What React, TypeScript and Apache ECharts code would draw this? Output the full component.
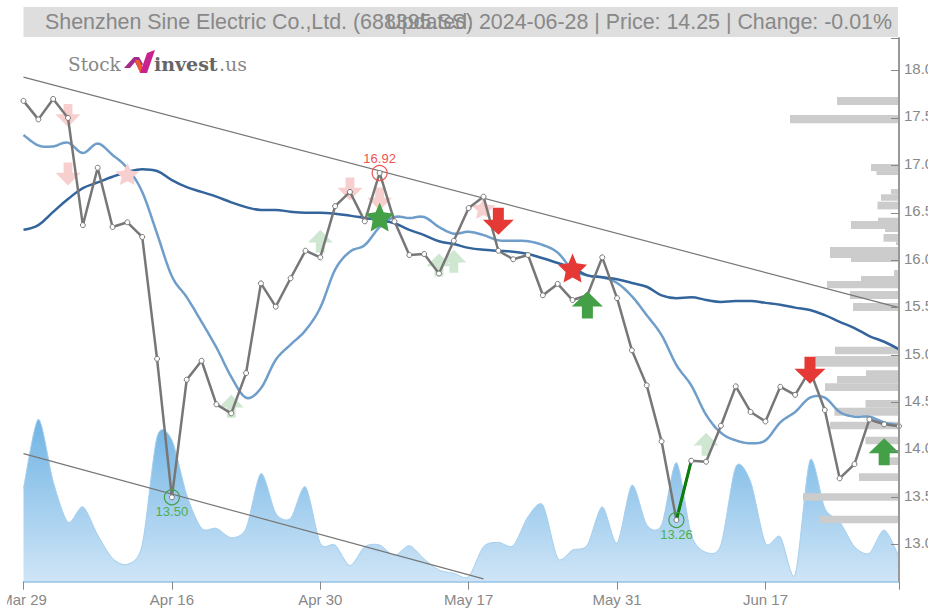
import React, { useEffect, useRef } from "react";
import * as echarts from "echarts";

const dates = ["Mar 29","Apr 1","Apr 2","Apr 3","Apr 8","Apr 9","Apr 10","Apr 11","Apr 12","Apr 15",
  "Apr 16","Apr 17","Apr 18","Apr 19","Apr 22","Apr 23","Apr 24","Apr 25","Apr 26","Apr 29",
  "Apr 30","May 6","May 7","May 8","May 9","May 10","May 13","May 14","May 15","May 16",
  "May 17","May 20","May 21","May 22","May 23","May 24","May 27","May 28","May 29","May 30",
  "May 31","Jun 3","Jun 4","Jun 5","Jun 6","Jun 7","Jun 11","Jun 12","Jun 13","Jun 14",
  "Jun 17","Jun 18","Jun 19","Jun 20","Jun 21","Jun 24","Jun 25","Jun 26","Jun 27","Jun 28"];

const closes = [17.68,17.485,17.70,17.50,16.37,16.975,16.35,16.40,16.245,14.96,
  13.50,14.74,14.94,14.48,14.385,14.81,15.756,15.51,15.81,16.10,
  16.03,16.57,16.72,16.41,16.92,16.41,16.055,16.065,15.86,16.205,
  16.55,16.67,16.10,16.01,16.055,15.63,15.75,15.58,15.63,16.03,
  15.60,15.05,14.68,14.09,13.26,13.885,13.875,14.255,14.67,14.40,
  14.30,14.665,14.58,14.84,14.42,13.70,13.85,14.32,14.27,14.25];

const maFast = [17.32,17.21,17.20,17.24,17.13,17.23,17.11,16.97,16.72,16.28,
  15.83,15.61,15.35,15.08,14.77,14.55,14.65,14.95,15.11,15.26,
  15.50,15.90,16.09,16.16,16.35,16.455,16.445,16.455,16.35,16.28,
  16.30,16.265,16.21,16.205,16.20,16.16,16.08,15.90,15.84,15.82,
  15.76,15.62,15.42,15.21,14.895,14.68,14.37,14.18,14.10,14.07,
  14.10,14.29,14.40,14.55,14.55,14.40,14.35,14.35,14.29,14.26];

const maSlow = [16.32,16.37,16.51,16.645,16.76,16.82,16.88,16.93,16.96,16.94,
  16.845,16.77,16.72,16.67,16.61,16.56,16.53,16.53,16.51,16.50,
  16.50,16.49,16.47,16.445,16.42,16.39,16.32,16.265,16.20,16.17,
  16.13,16.11,16.10,16.09,16.065,16.02,15.97,15.92,15.84,15.82,
  15.80,15.76,15.72,15.63,15.60,15.61,15.58,15.56,15.57,15.57,
  15.55,15.53,15.50,15.475,15.42,15.35,15.285,15.20,15.14,15.06];

const volumes = [280,488,300,178,225,140,70,52,110,435,
  425,260,160,160,132,160,325,205,190,285,
  115,110,48,105,110,78,108,68,35,25,
  15,105,118,108,195,230,70,95,110,225,
  115,290,170,170,358,140,88,110,345,300,
  115,135,20,365,220,180,105,85,155,75];

// [width, low price, high price]
const profile = [[62,17.636,17.72],[109,17.443,17.53],[28,16.94,17.014],[22.5,16.898,16.94],
  [8,16.695,16.75],[18,16.627,16.695],[21.5,16.536,16.617],[21,16.413,16.448],[48,16.33,16.413],
  [14,16.297,16.33],[15.5,16.195,16.276],[3,16.16,16.195],[69,16.023,16.139],[48,15.981,16.023],
  [5,15.833,15.896],[38,15.78,15.833],[72,15.703,15.78],[49,15.591,15.675],[46,15.464,15.548],
  [64,15.008,15.088],[84,14.877,14.99],[33,14.77,14.84],[62,14.702,14.779],[74,14.621,14.702],
  [33.5,14.445,14.526],[64.5,14.36,14.445],[69,14.217,14.297],[33.5,14.059,14.139],
  [20,13.84,13.922],[40,13.672,13.753],[96,13.464,13.542],[80,13.226,13.306]];

const trendUpper = [[0,17.93],[59,15.50]];
const trendLower = [[0,13.96],[31,12.64]];

const paleSellArrows = [[3,17.525],[3,16.908],[22,16.75],[24,16.645]];
const paleSellStars = [[7,16.908],[31,16.55]];
const paleBuyArrows = [[14,14.46],[20,16.20],[28,15.95],[29,15.99],[46,14.06]];
const sellArrows = [[32,16.41],[53,14.84]];
const sellStars = [[37,15.917]];
const buyArrows = [[38,15.527],[58,13.98]];
const buyStars = [[24,16.455]];
const highs = [[24,16.92]];
const lows = [[10,13.50],[44,13.26]];

const priceTicks = [13,13.5,14,14.5,15,15.5,16,16.5,17,17.5,18];
const dateTicks = [0,10,20,30,40,50];

const titleLeft = "Shenzhen Sine Electric Co.,Ltd. (688395.SS)";
const titleRight = "Updated: 2024-06-28 | Price: 14.25 | Change: -0.01%";

const DOWN = "path://M10 0H21V12H31L15.5 27L0 12H10Z";
const UP = "path://M10 27H21V15H31L15.5 0L0 15H10Z";
const STAR = "path://M50 0L64 32L100 37L74 60L81 95L50 78L19 95L26 60L0 37L36 32Z";

const OX = 7;
const FONT = "'Liberation Sans', Arial, sans-serif";

function marks(name: string, data: number[][], symbol: string, size: number[], color: string, z: number) {
  return { name, type: "scatter", z, data, symbol, symbolSize: size, itemStyle: { color, opacity: 1 }, clip: false, silent: true };
}

// Draws a curve through pixel points (cardinal spline), used only when rendering.
function curveThrough(pts: number[][], tension = 0.8) {
  const out: number[][] = [];
  const n = pts.length;
  const tan = (i: number, k: number) => {
    const a = pts[Math.max(i - 1, 0)][k];
    const b = pts[Math.min(i + 1, n - 1)][k];
    return ((b - a) / 2) * tension;
  };
  for (let i = 0; i < n - 1; i++) {
    for (let s = 0; s < 8; s++) {
      const t = s / 8, t2 = t * t, t3 = t2 * t;
      const h00 = 2 * t3 - 3 * t2 + 1, h10 = t3 - 2 * t2 + t, h01 = -2 * t3 + 3 * t2, h11 = t3 - t2;
      out.push([0, 1].map((k) => h00 * pts[i][k] + h10 * tan(i, k) + h01 * pts[i + 1][k] + h11 * tan(i + 1, k)));
    }
  }
  out.push(pts[n - 1]);
  return out;
}

export default function App() {
  const ref = useRef<HTMLDivElement>(null);
  useEffect(() => {
    const chart = echarts.init(ref.current!, null, { renderer: "svg" });
    const areaFill = new echarts.graphic.LinearGradient(0, 0, 0, 1, [{ offset: 0, color: "#70b4e4" }, { offset: 1, color: "#cfe5f7" }]);
    chart.setOption({
      animation: false,
      grid: { left: 23.5 - OX, top: 38, width: 875.5, height: 543.7, containLabel: false, outerBoundsMode: "none" },
      xAxis: [
        {
          type: "category", data: dates, boundaryGap: false, z: 20,
          axisLine: { lineStyle: { color: "#93c2e4", width: 1.5 } },
          axisTick: { length: 8, inside: false, interval: (i: number) => dateTicks.includes(i) || i === 59, lineStyle: { color: "#888", width: 1 } },
          axisLabel: { interval: (i: number) => dateTicks.includes(i), color: "#888", fontSize: 15, fontFamily: FONT, margin: 10, hideOverlap: false },
          splitLine: { show: false },
        },
        { type: "value", min: 0, max: 875.5, inverse: true, show: false, position: "top" },
      ],
      yAxis: [
        {
          type: "value", min: 12.61, max: 18.343, position: "right", scale: true, z: 20,
          axisLine: { show: true, lineStyle: { color: "#999", width: 2 } },
          axisTick: { show: true, inside: true, length: 8, customValues: [...priceTicks, 18.343], lineStyle: { color: "#888", width: 1 } },
          axisLabel: {
            customValues: priceTicks, margin: 5,
            formatter: (v: number) => `{a|${v.toFixed(1)}}`,
            rich: { a: { color: "#888", fontSize: 15, fontFamily: FONT, padding: [0, 0, 4, 0] } },
          },
          splitLine: { show: false },
        },
        { type: "value", min: 0, max: 1631, show: false },
      ],
      series: [
        {
          name: "Volume", type: "custom", z: 1, yAxisIndex: 1, data: volumes.map((v, i) => [i, v]),
          encode: { x: 0, y: 1 }, clip: false, silent: true,
          renderItem: (params: any, api: any) => {
            if (params.dataIndex !== 0) return null;
            const base = api.coord([0, 0])[1];
            const curve = curveThrough(volumes.map((v, i) => api.coord([i, v]))).map((p) => [p[0], Math.min(p[1], base)]);
            return {
              type: "group",
              children: [
                { type: "polygon", shape: { points: [...curve, [curve[curve.length - 1][0], base], [curve[0][0], base]] }, style: { fill: areaFill } },
                { type: "polyline", shape: { points: curve }, style: { fill: "none", stroke: "#a5cfee", lineWidth: 1 } },
              ],
            };
          },
        },
        {
          name: "Profile", type: "custom", z: 2, xAxisIndex: 1, yAxisIndex: 0, data: profile,
          encode: { x: 0, y: [1, 2] }, clip: false, silent: true,
          renderItem: (_: any, api: any) => {
            const a = api.coord([api.value(0), api.value(2)]);
            const b = api.coord([0, api.value(1)]);
            return { type: "rect", shape: { x: a[0], y: a[1], width: b[0] - a[0], height: b[1] - a[1] }, style: { fill: "#cccccc" } };
          },
        },
        { name: "Trend upper", type: "line", z: 3, data: trendUpper, symbol: "none", clip: false, lineStyle: { color: "#777", width: 1.2 } },
        { name: "Trend lower", type: "line", z: 3, data: trendLower, symbol: "none", clip: false, lineStyle: { color: "#777", width: 1.2 } },
        { name: "MA slow", type: "line", z: 4, data: maSlow, smooth: 0.4, symbol: "none", clip: false, lineStyle: { color: "#33659c", width: 2.5 } },
        {
          name: "MA fast", type: "custom", z: 4, data: maFast.map((v, i) => [i, v]),
          encode: { x: 0, y: 1 }, clip: false, silent: true,
          renderItem: (params: any, api: any) => {
            if (params.dataIndex !== 0) return null;
            return { type: "polyline", shape: { points: curveThrough(maFast.map((v, i) => api.coord([i, v])), 1) }, style: { fill: "none", stroke: "#6f9ecb", lineWidth: 2.5 } };
          },
        },
        marks("Pale sell", paleSellArrows, DOWN, [25, 23], "#f8cfcf", 5),
        marks("Pale sell star", paleSellStars, STAR, [24, 22], "#f8cfcf", 5),
        marks("Pale buy", paleBuyArrows, UP, [25, 23], "#cfe7d0", 5),
        { name: "Close", type: "line", z: 6, data: closes, symbol: "none", clip: false, lineStyle: { color: "#777", width: 2.5 } },
        { name: "Rebound", type: "line", z: 7, data: closes.map((v, i) => (i === 44 || i === 45 ? v : null)), symbol: "none", clip: false, lineStyle: { color: "#0b7d0b", width: 3 } },
        { name: "Points", type: "scatter", z: 8, data: closes.map((v, i) => [i, v]), symbol: "circle", symbolSize: 5, clip: false, silent: true, itemStyle: { color: "#fff", borderColor: "#777", borderWidth: 1, opacity: 1 } },
        {
          name: "High", type: "scatter", z: 9, data: highs, symbol: "circle", symbolSize: 15, clip: false, silent: true,
          itemStyle: { color: "rgba(255,255,255,0)", borderColor: "#ef5350", borderWidth: 1.2, opacity: 1 },
          label: { show: true, position: "top", distance: 0, color: "#ef5350", fontSize: 13, fontFamily: FONT, formatter: (p: any) => p.value[1].toFixed(2) },
        },
        {
          name: "Low", type: "scatter", z: 9, data: lows, symbol: "circle", symbolSize: 15, clip: false, silent: true,
          itemStyle: { color: "rgba(255,255,255,0)", borderColor: "#43a047", borderWidth: 1.2, opacity: 1 },
          label: { show: true, position: "bottom", distance: 0, color: "#4caf50", fontSize: 13, fontFamily: FONT, formatter: (p: any) => p.value[1].toFixed(2) },
        },
        marks("Sell", sellArrows, DOWN, [31, 27], "#e53935", 10),
        marks("Sell star", sellStars, STAR, [29, 29], "#e53935", 10),
        marks("Buy", buyArrows, UP, [31, 27], "#43a047", 10),
        marks("Buy star", buyStars, STAR, [29, 29], "#43a047", 10),
      ],
      graphic: [
        { type: "rect", z: -1, shape: { x: 23.5 - OX, y: 7, width: 874.5, height: 30 }, style: { fill: "#dedede" } },
        { type: "text", z: 10, x: 45 - OX, y: 22, style: { text: titleLeft, fill: "#888", font: `21.4px ${FONT}`, verticalAlign: "middle", align: "left" } },
        { type: "text", z: 10, x: 892 - OX, y: 22, style: { text: titleRight, fill: "#888", font: `21.4px ${FONT}`, verticalAlign: "middle", align: "right" } },
        { type: "text", z: 10, x: 68 - OX, y: 64, style: { text: "Stock", fill: "#888", font: `18.5px 'DejaVu Serif', serif`, verticalAlign: "middle" } },
        { type: "text", z: 10, x: 154 - OX, y: 64, style: { text: "invest", fill: "#666", font: `bold 19px 'DejaVu Serif', serif`, verticalAlign: "middle" } },
        { type: "text", z: 10, x: 219 - OX, y: 64, style: { text: ".us", fill: "#888", font: `19px 'DejaVu Serif', serif`, verticalAlign: "middle" } },
        { type: "polygon", z: 10, shape: { points: [[124-OX,68],[134-OX,57],[139-OX,57],[143-OX,64],[139-OX,70],[135-OX,62],[130-OX,68]] }, style: { fill: "#a52a8a" } },
        { type: "polygon", z: 10, shape: { points: [[135-OX,60],[139-OX,60],[146-OX,73],[140-OX,73]] }, style: { fill: "#f0592a" } },
        { type: "polygon", z: 10, shape: { points: [[140-OX,73],[147-OX,73],[155-OX,50],[147-OX,53]] }, style: { fill: "#c9218e" } },
      ],
    });
    return () => chart.dispose();
  }, []);
  return <div ref={ref} style={{ position: "absolute", left: OX, top: 0, width: 928 - OX, height: 610, overflow: "hidden" }} />;
}
